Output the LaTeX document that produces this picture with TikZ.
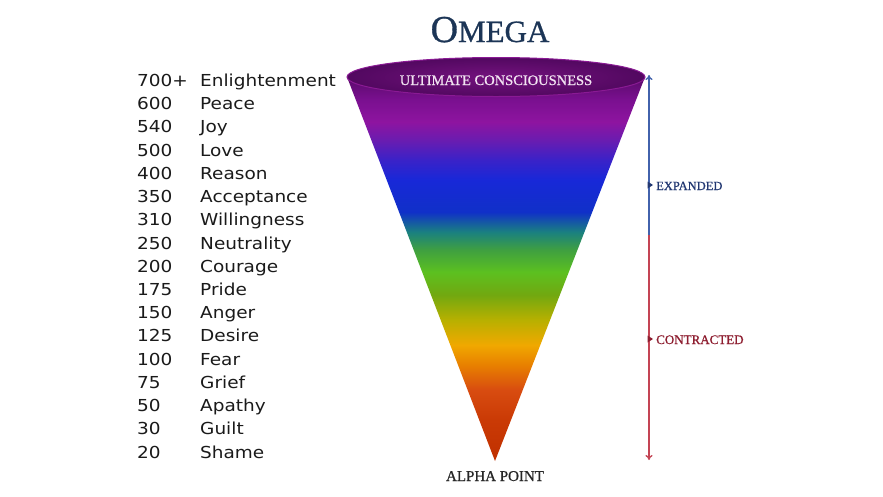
\documentclass[tikz,border=0pt]{standalone}
\usepackage{fontspec}
\setmainfont{Liberation Serif}
\newfontfamily\serifb[FakeBold=0.8]{Liberation Serif}
\newfontfamily\listfont[FakeStretch=1.12]{DejaVu Sans}
\usetikzlibrary{arrows.meta,calc}
\definecolor{c00}{HTML}{C03000}
\definecolor{c01}{HTML}{CA3A05}
\definecolor{c02}{HTML}{D84C10}
\definecolor{c03}{HTML}{E88000}
\definecolor{c04}{HTML}{F0A800}
\definecolor{c05}{HTML}{B8B000}
\definecolor{c06}{HTML}{72A810}
\definecolor{c07}{HTML}{5CC020}
\definecolor{c08}{HTML}{3FA040}
\definecolor{c09}{HTML}{1A8080}
\definecolor{c10}{HTML}{1030C8}
\definecolor{c11}{HTML}{1828D8}
\definecolor{c12}{HTML}{3A22C8}
\definecolor{c13}{HTML}{6A1CB0}
\definecolor{c14}{HTML}{8E14A0}
\definecolor{c15}{HTML}{7A1090}
\definecolor{c16}{HTML}{5A0A6A}
\definecolor{titlec}{HTML}{1C3556}
\definecolor{bluec}{HTML}{4262AC}
\definecolor{bluet}{HTML}{223872}
\definecolor{redc}{HTML}{C44454}
\definecolor{redt}{HTML}{8E1E30}
\definecolor{ellin}{HTML}{74127E}
\definecolor{ellout}{HTML}{520860}
\definecolor{ellrim}{HTML}{8A1A94}
\definecolor{ellt}{HTML}{F2E4F2}
\definecolor{listc}{HTML}{1A1A1A}
\pgfdeclareverticalshading{conegrad}{100bp}{color(0bp)=(c00); color(25bp)=(c00);
 color(30.34bp)=(c01); color(34.24bp)=(c02); color(37.5bp)=(c03); color(40.10bp)=(c04);
 color(43.36bp)=(c05); color(46.61bp)=(c06); color(49.61bp)=(c07); color(52.47bp)=(c08);
 color(54.82bp)=(c09); color(57.42bp)=(c10); color(61.59bp)=(c11); color(64.19bp)=(c12);
 color(66.80bp)=(c13); color(69.14bp)=(c14); color(72.01bp)=(c15); color(75bp)=(c16);
 color(100bp)=(c16)}
\tikzset{
 listtext/.style={anchor=base west, inner sep=0pt, text=listc, font=\listfont\fontsize{16.5}{16.5}\selectfont},
 sidelabel/.style={anchor=base west, inner sep=0pt, font=\serifb\fontsize{13}{13}\selectfont},
 bluearrow/.style={draw=bluec, line width=1.3pt, -{To[length=5pt,width=7pt]}},
 redarrow/.style={draw=redc, line width=1.3pt, -{To[length=5pt,width=7pt]}}
}
\begin{document}
\begin{tikzpicture}[x=1pt,y=-1pt]
\useasboundingbox[fill=white] (0,0) rectangle (883,496);
% title
\node[anchor=base, inner sep=0pt, text=titlec, font=\serifb] (title) at (490,42)
 {{\fontsize{38}{38}\selectfont O}{\fontsize{31}{31}\selectfont MEGA}};
% cone
\coordinate (apex) at (495,461);
\coordinate (cl) at (347,77);
\coordinate (cr) at (645,77);
\shade[shading=conegrad] (cl) -- (apex) -- (cr) -- cycle;
\shade[inner color=ellin, outer color=ellout, draw=ellrim, line width=1pt] (496,77) ellipse [x radius=149, y radius=19.5];
\node[anchor=base, inner sep=0pt, text=ellt, font=\serifb\fontsize{14.5}{14.5}\selectfont] (ult) at (496,85) {ULTIMATE CONSCIOUSNESS};
\node[anchor=base, inner sep=0pt, text=black!85, font=\serifb\fontsize{15}{15}\selectfont] (alpha) at (495,481) {ALPHA POINT};
% list
\foreach \n/\w [count=\i from 0] in {700+/Enlightenment,600/Peace,540/Joy,500/Love,400/Reason,350/Acceptance,310/Willingness,250/Neutrality,200/Courage,175/Pride,150/Anger,125/Desire,100/Fear,75/Grief,50/Apathy,30/Guilt,20/Shame}{
 \node[listtext] (num\i) at (137,{86.5+23.22*\i}) {\n};
 \node[listtext] (word\i) at (200,{86.5+23.22*\i}) {\w};
}
% arrows
\coordinate (mid) at (649,235);
\coordinate (topend) at (649,75);
\coordinate (botend) at (649,460);
\draw[bluearrow] (mid) -- (topend);
\draw[redarrow] (mid) -- (botend);
\coordinate (mexp) at (649,185);
\coordinate (mcon) at (649,339);
\fill[bluet] ($(mexp)+(-1.5,-3.5)$) -- ($(mexp)+(4,0)$) -- ($(mexp)+(-1.5,3.5)$) -- cycle;
\fill[redt] ($(mcon)+(-1.5,-3.5)$) -- ($(mcon)+(4,0)$) -- ($(mcon)+(-1.5,3.5)$) -- cycle;
\node[sidelabel, text=bluet, font=\serifb\fontsize{12.5}{12.5}\selectfont] (exp) at (656,190) {EXPANDED};
\node[sidelabel, text=redt] (con) at (656,344) {CONTRACTED};
\end{tikzpicture}
\end{document}
